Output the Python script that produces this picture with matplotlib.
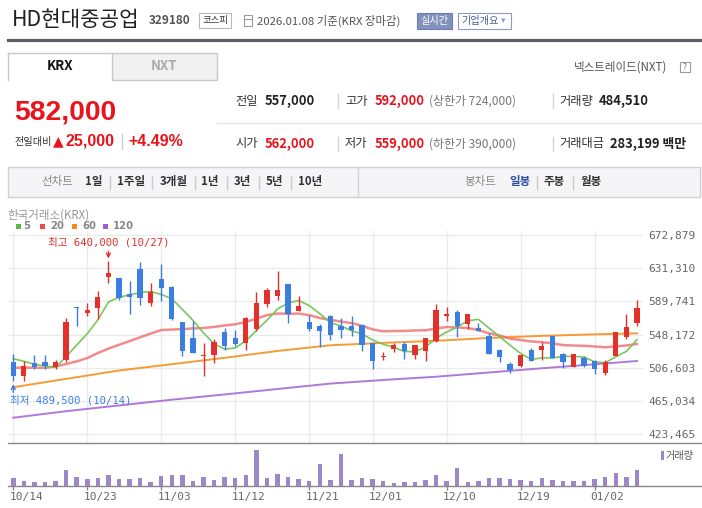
import numpy as np
import matplotlib
matplotlib.use('Agg')
import matplotlib.pyplot as plt
from matplotlib.patches import Rectangle
from matplotlib.lines import Line2D

W, H = 702, 508
KR = 'Noto Sans CJK KR'
MONO = ['DejaVu Sans Mono', 'Noto Sans CJK KR']
ARIAL = ['Liberation Sans', 'Noto Sans CJK KR', 'DejaVu Sans']
plt.rcParams['font.family'] = [KR, 'DejaVu Sans']

# ---------------- data ----------------
dates = ['10/14', '10/15', '10/16', '10/17', '10/20', '10/21', '10/22', '10/23', '10/24', '10/27',
         '10/28', '10/29', '10/30', '10/31', '11/03', '11/04', '11/05', '11/06', '11/07', '11/10',
         '11/11', '11/12', '11/13', '11/14', '11/17', '11/18', '11/19', '11/20', '11/21', '11/24',
         '11/25', '11/26', '11/27', '11/28', '12/01', '12/02', '12/03', '12/04', '12/05', '12/08',
         '12/09', '12/10', '12/11', '12/12', '12/15', '12/16', '12/17', '12/18', '12/19', '12/22',
         '12/23', '12/24', '12/26', '12/29', '12/30', '01/02', '01/05', '01/06', '01/07', '01/08']

opens = [513500, 496500, 512000, 513500, 507000, 516000, 582500, 575500, 581500, 620500,
         619000, 599000, 630000, 588000, 617500, 607500, 564000, 544000, 521500, 523000,
         551500, 544000, 538000, 555000, 587000, 596500, 611500, 578000, 564000, 559000,
         571500, 559000, 559000, 559500, 538000, 520500, 530500, 536500, 523000, 528000,
         540000, 572000, 577000, 561000, 556500, 546500, 528500, 511000, 509000, 528500,
         529000, 546500, 523500, 508000, 519000, 515000, 500500, 521500, 544500, 562000]
highs = [523500, 514500, 522000, 522000, 516000, 568500, 583000, 587500, 602500, 640000,
         619000, 615000, 639000, 612500, 636500, 609500, 564000, 565500, 537500, 543000,
         556000, 554000, 570000, 601500, 607000, 627500, 611500, 596500, 572500, 561500,
         572500, 569000, 571500, 560000, 538000, 526500, 537000, 538500, 535000, 544000,
         586500, 582500, 579000, 574000, 563000, 549500, 530000, 514000, 522500, 531000,
         539000, 546500, 525500, 523500, 521000, 516500, 516000, 551500, 574000, 592000]
lows = [489500, 490500, 504500, 505500, 504500, 514000, 559000, 571500, 567500, 613000,
        591500, 574500, 585500, 584000, 590500, 566500, 521500, 524500, 496500, 512000,
        529000, 534000, 529000, 552500, 583000, 591500, 563000, 577500, 553000, 533000,
        541500, 544000, 546500, 527500, 505000, 516500, 526500, 518000, 518000, 514500,
        538500, 565000, 545500, 555000, 552000, 523500, 514000, 500500, 508000, 514500,
        516500, 518500, 506000, 507500, 507500, 499000, 498000, 521000, 543000, 559000]
closes = [496500, 508500, 508000, 508500, 513500, 564000, 581000, 579000, 595000, 625500,
          594000, 595500, 594000, 601500, 607000, 567500, 528000, 525500, 522500, 539000,
          534000, 536500, 569000, 587500, 604000, 604000, 574500, 584000, 555500, 553000,
          548000, 554000, 554000, 535000, 515500, 521500, 534500, 527500, 534500, 543500,
          578500, 572500, 559000, 574000, 552000, 524000, 519500, 504000, 522500, 514500,
          534000, 519000, 513500, 523500, 509000, 504500, 513500, 551500, 557000, 582000]
volumes = [242000, 151000, 121000, 121000, 151000, 484000, 272000, 212000, 242000, 333000,
           212000, 212000, 242000, 121000, 303000, 333000, 333000, 151000, 272000, 182000,
           272000, 242000, 333000, 1090000, 242000, 363000, 272000, 212000, 151000, 666000,
           182000, 969000, 182000, 242000, 212000, 151000, 91000, 121000, 121000, 182000,
           333000, 151000, 545000, 121000, 151000, 242000, 242000, 212000, 182000, 151000,
           242000, 182000, 151000, 151000, 151000, 212000, 272000, 394000, 272000, 484510]

# moving averages: first values (history before the window)
ma5_head = [517900, 514600, 510900, 508700]
ma20_head = [506600, 506600, 506600, 506400, 508100, 511200, 514500, 518700, 525000, 530500,
             535300, 539900, 544700, 549400, 553800, 554400, 555000, 555800, 556400]
ma_idx = [0, 5, 10, 15, 20, 25, 30, 35, 40, 45, 50, 55, 59]
ma60 = [482100, 492600, 503100, 511000, 519000, 527600, 534700, 537700, 540300, 543900,
        546500, 548400, 549700]
ma120 = [443900, 452100, 459300, 466500, 473100, 479900, 486700, 491200, 495300, 500600,
         505900, 510900, 515000]

price_ticks = [423465, 465034, 506603, 548172, 589741, 631310, 672879]
date_tick_idx = [0, 7, 14, 21, 28, 34, 41, 48, 55]
ma_labels = ['5', '20', '60', '120']
ma_colors = ['#5db544', '#ea4c4c', '#f78a1e', '#9e5fd2']

# ---------------- helpers ----------------
fig = plt.figure(figsize=(W / 100, H / 100), dpi=100)
fig.patch.set_facecolor('white')


def fx(x):
    return x / W


def fy(y):
    return 1 - y / H


def rect(x0, y0, x1, y1, fc='none', ec='none', lw=1.0, z=1):
    fig.add_artist(Rectangle((fx(x0), fy(y1)), (x1 - x0) / W, (y1 - y0) / H,
                             transform=fig.transFigure, facecolor=fc, edgecolor=ec,
                             linewidth=lw, zorder=z))


def hline(x0, x1, y, color, lw=1.0):
    fig.add_artist(Line2D([fx(x0), fx(x1)], [fy(y), fy(y)], transform=fig.transFigure,
                          color=color, linewidth=lw))


def vline(x, y0, y1, color, lw=1.0):
    fig.add_artist(Line2D([fx(x), fx(x)], [fy(y0), fy(y1)], transform=fig.transFigure,
                          color=color, linewidth=lw))


def txt(x, y, s, size=9, color='#333', weight='normal', ha='left', family=None):
    kw = {}
    if family is not None:
        kw['family'] = family
    fig.text(fx(x), fy(y), s, fontsize=size, color=color, fontweight=weight,
             ha=ha, va='center', **kw)


RED = '#e8141c'

# ---------------- header ----------------
txt(12, 20, 'HD현대중공업', size=15.3, color='#222')
txt(149, 21, '329180', size=8.5, color='#555', weight='bold')
rect(199, 13, 231, 28, fc='white', ec='#b8b8b8', lw=0.8)
txt(215, 20.5, '코스피', size=6.8, color='#333', ha='center')
rect(244, 15, 252, 26, fc='white', ec='#9a9a9a', lw=0.8)
hline(245, 251, 18.5, '#9a9a9a', lw=0.8)
txt(257, 20.5, '2026.01.08 기준(KRX 장마감)', size=8.2, color='#555')
rect(417, 13, 452, 29, fc='#8391bd', ec='#6f7eb0', lw=0.8)
txt(434.5, 21, '실시간', size=7.3, color='white', ha='center')
rect(458, 13, 511, 29, fc='white', ec='#8c9cc9', lw=0.8)
txt(461, 21, '기업개요', size=7.3, color='#4b5d92')
txt(501, 21, '▾', size=6.5, color='#8c9cc9', family=['DejaVu Sans'])

hline(8, 702, 40, '#5a5e66', lw=2.3)

# tabs
rect(8, 53, 112, 80, fc='white', ec='none')
hline(8, 112, 53, '#c8c8c8')
vline(8, 53, 80, '#c8c8c8')
rect(112, 53, 217, 80, fc='#f1f1f1', ec='#c8c8c8', lw=1.0)
txt(60, 66.5, 'KRX', size=9.5, color='#111', weight='bold', ha='center')
txt(164.5, 66.5, 'NXT', size=9.5, color='#aaaaaa', weight='bold', ha='center')
txt(574, 67, '넥스트레이드(NXT)', size=8.3, color='#555')
rect(680, 62, 690, 72, fc='white', ec='#9a9a9a', lw=0.8)
txt(685, 67, '?', size=6, color='#777', ha='center')

# price block
txt(14, 113, '582,000', size=20.3, color=RED, weight='bold', family=ARIAL)
txt(15, 141.5, '전일대비', size=7.3, color='#333')
txt(53, 141.5, '▲', size=10, color=RED, family=['DejaVu Sans'])
txt(65, 141.5, '25,000', size=11.5, color=RED, weight='bold', family=ARIAL)
vline(122, 134, 149, '#cccccc')
txt(128, 141.5, '+4.49%', size=11.5, color=RED, weight='bold', family=ARIAL)

# info rows
for y, items in [(101, [('전일', '557,000', '#222', None), ('고가', '592,000', RED, '(상한가 724,000)'),
                        ('거래량', '484,510', '#222', None)]),
                 (144, [('시가', '562,000', RED, None), ('저가', '559,000', RED, '(하한가 390,000)'),
                        ('거래대금', '283,199 백만', '#222', None)])]:
    xs = [(235, 265), (345, 375), (559, None)]
    for (lab, val, col, extra), (xl, xv) in zip(items, xs):
        txt(xl, y, lab, size=8.8, color='#333')
        if xv is None:
            xv = 599 if lab == '거래량' else 610
        txt(xv, y, val, size=9.3, color=col, weight='bold')
        if extra:
            txt(429, y, extra, size=8.6, color='#777')
    vline(338, y - 7, y + 7, '#d5d5d5')
    vline(553, y - 7, y + 7, '#d5d5d5')
hline(217, 702, 123, '#e6e6e6')

# period bar
rect(8, 167, 700, 197, fc='#f5f5f7', ec='#d0d0d0', lw=1.0)
vline(358, 167, 197, '#d5d5d5')
txt(41, 182, '선차트', size=8.3, color='#888')
for x, s in [(85, '1일'), (117, '1주일'), (160, '3개월'), (201, '1년'), (234, '3년'), (266, '5년'), (298, '10년')]:
    txt(x, 182, s, size=8.3, color='#333', weight='bold')
for x in [110, 152, 195, 227, 259, 291]:
    vline(x, 176, 189, '#cccccc')
txt(464, 182, '봉차트', size=8.3, color='#888')
txt(509, 182, '일봉', size=8.3, color='#2d4f9e', weight='bold')
txt(544, 182, '주봉', size=8.3, color='#333', weight='bold')
txt(581, 182, '월봉', size=8.3, color='#333', weight='bold')
for x in [537, 573]:
    vline(x, 176, 189, '#cccccc')

# chart header + legend
txt(7, 215, '한국거래소(KRX)', size=8.3, color='#999')
for (xs, xt), lab, col in zip([(16, 23), (40, 50), (72, 82), (103, 113)], ma_labels, ma_colors):
    rect(xs, 223.5, xs + 5, 228.5, fc=col)
    txt(xt, 226, lab, size=7.3, color='#888', weight='bold', family=['DejaVu Sans'])

# ---------------- price chart ----------------
n = len(closes)
x = np.arange(n)
o = np.array(opens, float)
h = np.array(highs, float)
l = np.array(lows, float)
c = np.array(closes, float)

ax = fig.add_axes([fx(8), fy(443), (643 - 8) / W, (443 - 231) / H])
ax.set_xlim(-0.5, 59.57)
ax.set_ylim(412229, 677929)
for s in ax.spines.values():
    s.set_visible(False)
ax.set_yticks(price_ticks)
ax.set_yticklabels([f'{v:,}' for v in price_ticks], family=MONO, fontsize=8, color='#666')
ax.yaxis.tick_right()
ax.tick_params(axis='y', length=0, pad=3.6)
ax.set_xticks([])
ax.grid(axis='y', color='#ebebeb', lw=1.0, zorder=0)
for i in date_tick_idx:
    ax.axvline(i, color='#ebebeb', lw=1.0, zorder=0)

cl = list(closes)
ma5 = ma5_head + [np.mean(cl[i - 4:i + 1]) for i in range(4, n)]
ma20 = ma20_head + [np.mean(cl[i - 19:i + 1]) for i in range(19, n)]
ax.plot(ma_idx, ma120, color='#a66ad6', lw=1.4, alpha=0.9, zorder=2)
ax.plot(ma_idx, ma60, color='#f7901f', lw=1.4, alpha=0.9, zorder=2)
ax.plot(x, ma20, color='#f06464', lw=1.8, alpha=0.75, zorder=2)
ax.plot(x, ma5, color='#72c455', lw=1.2, alpha=0.95, zorder=2)

up = c >= o
cols = np.where(up, '#e3302a', '#3a7ee2')
ax.vlines(x, l, h, colors=cols, lw=1.0, zorder=3)
bottom = np.minimum(o, c)
height = np.maximum(np.abs(c - o), 1300)
ax.bar(x, height, bottom=bottom, width=0.5, color=cols, zorder=4, linewidth=0)

# high / low markers
hi = int(np.argmax(h))
lo = int(np.argmin(l))
ax.annotate('', xy=(hi, h[hi]), xytext=(0, 10), textcoords='offset pixels',
            arrowprops=dict(arrowstyle='->', color='#e3302a', lw=1.0, shrinkA=0, shrinkB=2,
                            mutation_scale=7), zorder=5)
ax.annotate(f'최고 {int(h[hi]):,} ({dates[hi]})', xy=(hi, h[hi]), xytext=(0, 19),
            textcoords='offset pixels', ha='center', va='center', fontsize=7.6,
            color='#e3302a', family=MONO, annotation_clip=False)
ax.annotate('', xy=(lo, l[lo]), xytext=(0, -11), textcoords='offset pixels',
            arrowprops=dict(arrowstyle='->', color='#3a7ee2', lw=1.0, shrinkA=0, shrinkB=2,
                            mutation_scale=7), zorder=5, annotation_clip=False)
ax.annotate(f'최저 {int(l[lo]):,} ({dates[lo]})', xy=(lo, l[lo]), xytext=(-3, -19),
            textcoords='offset pixels', ha='left', va='center', fontsize=7.6,
            color='#3a7ee2', family=MONO, annotation_clip=False)

# ---------------- volume chart ----------------
axv = fig.add_axes([fx(8), fy(486), (643 - 8) / W, 43 / H])
axv.set_xlim(-0.5, 59.57)
axv.set_ylim(0, 1302000)
for s in axv.spines.values():
    s.set_visible(False)
axv.bar(x, volumes, width=0.42, color='#9c88c8', linewidth=0)
axv.set_yticks([])
axv.set_xticks(date_tick_idx)
axv.set_xticklabels([])
axv.tick_params(axis='x', length=3, color='#888', width=1)
for i in date_tick_idx:
    axv.annotate(dates[i], xy=(i, 0), xytext=(-4, -11), textcoords='offset pixels',
                 ha='left', va='center', fontsize=8, color='#666', family=MONO,
                 annotation_clip=False)

hline(8, 702, 443, '#888888', lw=1.0)
hline(8, 702, 486, '#888888', lw=1.0)
rect(661, 451, 664, 460, fc='#9c88c8')
txt(666, 455.5, '거래량', size=7.3, color='#555')

fig.savefig('out.png', dpi=100, facecolor='white')
